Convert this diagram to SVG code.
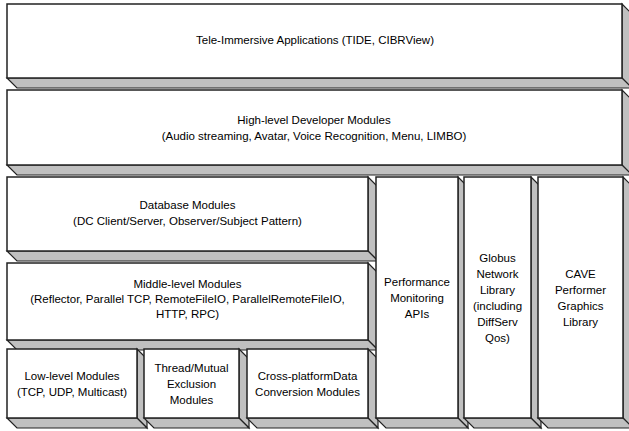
<svg xmlns="http://www.w3.org/2000/svg" width="629" height="431" viewBox="0 0 629 431">
<style>
.face{fill:#c0c0c0;stroke:#222;stroke-width:1.2;stroke-linejoin:miter}
.front{fill:#fff;stroke:#222;stroke-width:1.5}
text{font-family:"Liberation Sans",Arial,sans-serif;font-size:11.5px;fill:#000;text-anchor:middle}
</style>
<rect width="629" height="431" fill="#fff"/>
<g id="tele">
<polygon class="face" points="622,4 632,14 632,88 622,78"/>
<polygon class="face" points="7,78 622,78 632,88 17,88"/>
<rect class="front" x="7" y="4" width="615" height="74"/>
<text x="315" y="44">Tele-Immersive Applications (TIDE, CIBRView)</text>
</g>
<g id="highlevel">
<polygon class="face" points="622,90 632,100 632,175 622,165"/>
<polygon class="face" points="7,165 622,165 632,175 17,175"/>
<rect class="front" x="7" y="90" width="615" height="75"/>
<text x="314" y="124">High-level Developer Modules</text>
<text x="314" y="140">(Audio streaming, Avatar, Voice Recognition, Menu, LIMBO)</text>
</g>
<g id="database">
<polygon class="face" points="368,177 378,187 378,261 368,251"/>
<polygon class="face" points="7,251 368,251 378,261 17,261"/>
<rect class="front" x="7" y="177" width="361" height="74"/>
<text x="187.5" y="209">Database Modules</text>
<text x="187.5" y="225">(DC Client/Server, Observer/Subject Pattern)</text>
</g>
<g id="middlelevel">
<polygon class="face" points="368,263 378,273 378,350 368,340"/>
<polygon class="face" points="7,340 368,340 378,350 17,350"/>
<rect class="front" x="7" y="263" width="361" height="77"/>
<text x="187.5" y="288">Middle-level Modules</text>
<text x="187.5" y="303">(Reflector, Parallel TCP, RemoteFileIO, ParallelRemoteFileIO,</text>
<text x="187.5" y="318">HTTP, RPC)</text>
</g>
<g id="lowlevel">
<polygon class="face" points="137,349 147,359 147,428 137,418"/>
<polygon class="face" points="7,418 137,418 147,428 17,428"/>
<rect class="front" x="7" y="349" width="130" height="69"/>
<text x="72" y="380">Low-level Modules</text>
<text x="72" y="396">(TCP, UDP, Multicast)</text>
</g>
<g id="thread">
<polygon class="face" points="239,349 249,359 249,428 239,418"/>
<polygon class="face" points="144,418 239,418 249,428 154,428"/>
<rect class="front" x="144" y="349" width="95" height="69"/>
<text x="191.5" y="372">Thread/Mutual</text>
<text x="191.5" y="388">Exclusion</text>
<text x="191.5" y="404">Modules</text>
</g>
<g id="crossplatform">
<polygon class="face" points="368,349 378,359 378,428 368,418"/>
<polygon class="face" points="247,418 368,418 378,428 257,428"/>
<rect class="front" x="247" y="349" width="121" height="69"/>
<text x="307.5" y="380">Cross-platformData</text>
<text x="307.5" y="396">Conversion Modules</text>
</g>
<g id="performance">
<polygon class="face" points="458,177 468,187 468,428 458,418"/>
<polygon class="face" points="376,418 458,418 468,428 386,428"/>
<rect class="front" x="376" y="177" width="82" height="241"/>
<text x="417" y="286">Performance</text>
<text x="417" y="302">Monitoring</text>
<text x="417" y="318">APIs</text>
</g>
<g id="globus">
<polygon class="face" points="531,177 541,187 541,428 531,418"/>
<polygon class="face" points="464,418 531,418 541,428 474,428"/>
<rect class="front" x="464" y="177" width="67" height="241"/>
<text x="497.5" y="262">Globus</text>
<text x="497.5" y="278">Network</text>
<text x="497.5" y="294">Library</text>
<text x="497.5" y="310">(including</text>
<text x="497.5" y="326">DiffServ</text>
<text x="497.5" y="342">Qos)</text>
</g>
<g id="cave">
<polygon class="face" points="623,177 633,187 633,428 623,418"/>
<polygon class="face" points="538,418 623,418 633,428 548,428"/>
<rect class="front" x="538" y="177" width="85" height="241"/>
<text x="580.5" y="278">CAVE</text>
<text x="580.5" y="294">Performer</text>
<text x="580.5" y="310">Graphics</text>
<text x="580.5" y="326">Library</text>
</g>
<g id="connectors"/>
</svg>
